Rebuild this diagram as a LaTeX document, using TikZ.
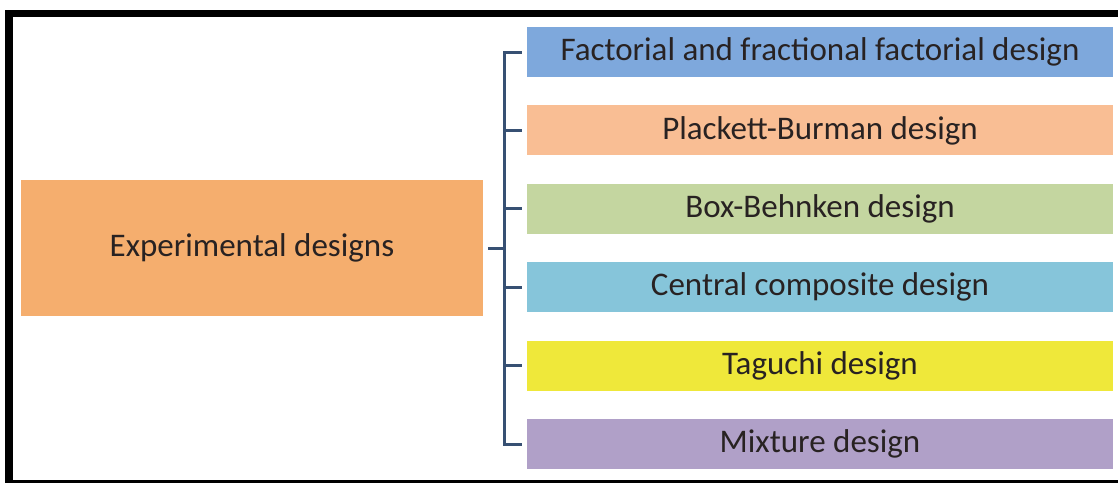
\documentclass[tikz,border=0pt]{standalone}
\usepackage{fontspec}
\setmainfont{Carlito}
\usepackage{tikz}
\usetikzlibrary{positioning,calc}
\usepackage{xcolor}
\definecolor{rootorange}{RGB}{245,174,110}
\definecolor{factblue}{RGB}{126,168,220}
\definecolor{pbpeach}{RGB}{249,190,148}
\definecolor{bbgreen}{RGB}{196,214,160}
\definecolor{cccyan}{RGB}{134,197,218}
\definecolor{tgyellow}{RGB}{239,232,58}
\definecolor{mxpurple}{RGB}{176,160,200}
\definecolor{linkblue}{RGB}{55,80,115}
\definecolor{inkdark}{RGB}{40,34,34}

\begin{document}
\begin{tikzpicture}[x=1pt,y=-1pt,
  designbox/.style={rectangle,text=inkdark,font=\fontsize{33}{36}\selectfont,
    minimum width=586pt,minimum height=50pt,inner sep=0pt},
  bracket/.style={draw=linkblue,line width=3pt}]
\useasboundingbox (0,0) rectangle (1118,482);
% frame, its right side runs off the page
\draw[line width=7.5pt] (1130,13.5) -- (9,13.5) -- (9,483.5) -- (1130,483.5);

\node[rectangle,fill=rootorange,text=inkdark,font=\fontsize{33}{36}\selectfont,
  minimum width=462pt,minimum height=136pt,inner sep=0pt] (root) at (252,248) {Experimental designs};

\node[designbox,fill=factblue] (d1) at (820,52) {Factorial and fractional factorial design};
\node[designbox,fill=pbpeach] (d2) at (820,130.4) {Plackett-Burman design};
\node[designbox,fill=bbgreen] (d3) at (820,208.8) {Box-Behnken design};
\node[designbox,fill=cccyan] (d4) at (820,287.2) {Central composite design};
\node[designbox,fill=tgyellow] (d5) at (820,365.6) {Taguchi design};
\node[designbox,fill=mxpurple] (d6) at (820,444) {Mixture design};

% bracket
\coordinate (spine) at ([xshift=-22pt]d1.west);
\draw[bracket] ([xshift=-5pt]d1.west) -- (spine) -- (spine |- d6.west) -- ([xshift=-5pt]d6.west);
\foreach \i in {2,...,5}
  \draw[bracket] (spine |- d\i.west) -- ([xshift=-5pt]d\i.west);
\draw[bracket] ([xshift=5pt]root.east) -- (spine |- root.east);
\end{tikzpicture}
\end{document}
